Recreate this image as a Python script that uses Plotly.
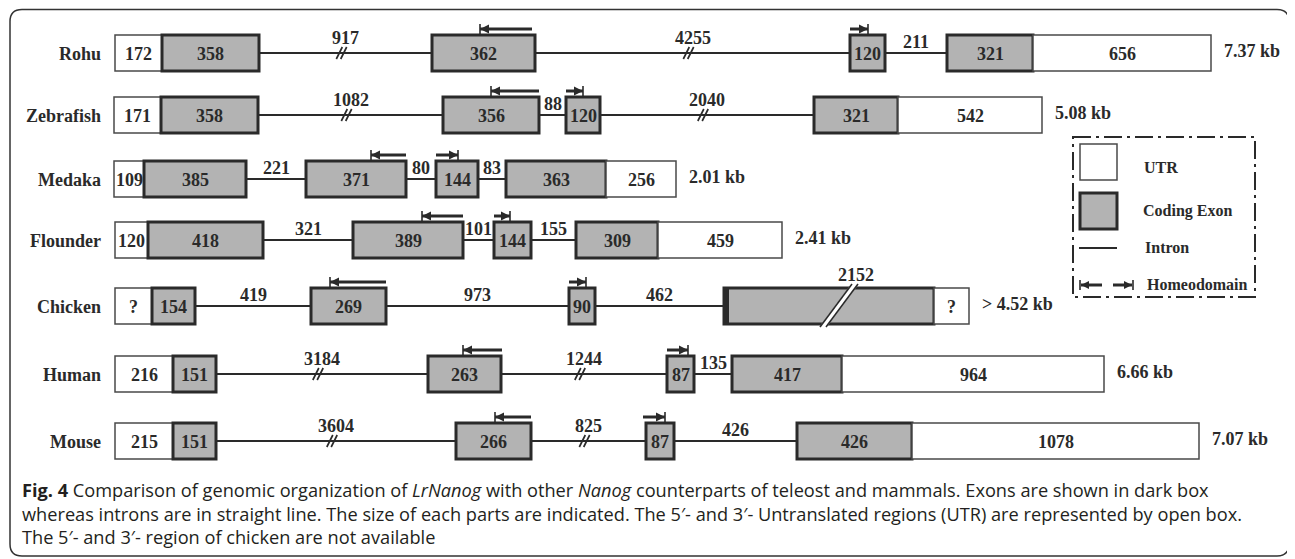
import plotly.graph_objects as go

# ---------------- data ----------------
species = ["Rohu", "Zebrafish", "Medaka", "Flounder", "Chicken", "Human", "Mouse"]
segment_kinds = ["UTR", "Exon", "Intron", "Exon", "Intron", "Exon", "Intron", "Exon", "UTR"]
rohu_sizes = ["172", "358", "917", "362", "4255", "120", "211", "321", "656"]
zebrafish_sizes = ["171", "358", "1082", "356", "88", "120", "2040", "321", "542"]
medaka_sizes = ["109", "385", "221", "371", "80", "144", "83", "363", "256"]
flounder_sizes = ["120", "418", "321", "389", "101", "144", "155", "309", "459"]
chicken_sizes = ["?", "154", "419", "269", "973", "90", "462", "2152", "?"]
human_sizes = ["216", "151", "3184", "263", "1244", "87", "135", "417", "964"]
mouse_sizes = ["215", "151", "3604", "266", "825", "87", "426", "426", "1078"]
total_length = ["7.37 kb", "5.08 kb", "2.01 kb", "2.41 kb", "> 4.52 kb", "6.66 kb", "7.07 kb"]
truncated_segments = [[2, 4], [2, 6], [], [], [7], [2, 4], [2, 4]]
legend_items = ["UTR", "Coding Exon", "Intron", "Homeodomain"]
caption_lines = [
    "<b>Fig. 4</b> Comparison of genomic organization of <i>LrNanog</i> with other <i>Nanog</i> counterparts of teleost and mammals. Exons are shown in dark box",
    "whereas introns are in straight line. The size of each parts are indicated. The 5\u2032- and 3\u2032- Untranslated regions (UTR) are represented by open box.",
    "The 5\u2032- and 3\u2032- region of chicken are not available",
]
all_sizes = [rohu_sizes, zebrafish_sizes, medaka_sizes, flounder_sizes,
             chicken_sizes, human_sizes, mouse_sizes]

# ---------------- layout (schematic, not to scale) ----------------
W, H = 1295, 559
PAGE_OFF = 8  # default body margin of the html page
row_y = [53, 115, 179, 240, 306, 374, 441]
half_h = 18
edges = [
    [115, 162, 259, 432, 535, 850, 885, 947, 1033, 1211],
    [114, 161, 258, 443, 539, 566, 600, 814, 898, 1042],
    [114, 144, 246, 306, 406, 436, 478, 506, 606, 676],
    [115, 148, 263, 353, 463, 494, 531, 576, 658, 782],
    [115, 152, 195, 311, 386, 569, 595, 724, 934, 969],
    [115, 173, 216, 428, 501, 667, 694, 732, 842, 1104],
    [115, 173, 216, 456, 531, 646, 674, 797, 912, 1199],
]
hd_left = [(480, 532), (491, 539), (371, 406), (422, 463), (330, 386), (463, 502), (495, 531)]
hd_right = [(850, 868), (566, 583), (436, 458), (494, 510), (569, 586), (667, 688), (643, 665)]

DARK = "#2a2a2a"
GREY = "#b3b3b3"
SERIF = "Liberation Serif"
FS = 18

shapes = []
annotations = []


def txt(x, y, s, size=FS, xanchor="center", family=SERIF, color=DARK, align="center"):
    annotations.append(dict(x=x, y=y, xref="x", yref="y", text=s, showarrow=False,
                            xanchor=xanchor, yanchor="middle", align=align,
                            font=dict(family=family, size=size, color=color)))


def line(x0, y0, x1, y1, w=2, c=DARK, dash=None):
    d = dict(type="line", xref="x", yref="y", x0=x0, y0=y0, x1=x1, y1=y1,
             line=dict(color=c, width=w))
    if dash:
        d["line"]["dash"] = dash
    shapes.append(d)


def rect(x0, y0, x1, y1, fill, w, c=DARK, dash=None):
    d = dict(type="rect", xref="x", yref="y", x0=x0, y0=y0, x1=x1, y1=y1,
             fillcolor=fill, line=dict(color=c, width=w))
    if dash:
        d["line"]["dash"] = dash
    shapes.append(d)


def path(p, fill=None, w=0, c=DARK):
    d = dict(type="path", xref="x", yref="y", path=p, line=dict(color=c, width=w))
    if fill:
        d["fillcolor"] = fill
    shapes.append(d)


def break_mark(xc, yc):
    for d in (-2.2, 2.2):
        line(xc + d - 3, yc + 6, xc + d + 3, yc - 6, w=1.7)


def arrow(x_from, x_to, y, bar_at, y_box_top):
    line(x_from, y, x_to, y, w=3)
    sgn = 1 if x_to > x_from else -1
    tip = x_to
    base = x_to - sgn * 9
    path(f"M {tip},{y} L {base},{y-4.5} L {base},{y+4.5} Z", fill=DARK, w=0)
    line(bar_at, y - 5, bar_at, y_box_top, w=1.6)


# frame with rounded corners
L, T, R, B, r = 10, 9.5, 1289, 556, 12
path(f"M {L+r},{T} L {R-r},{T} Q {R},{T} {R},{T+r} L {R},{B-r} Q {R},{B} {R-r},{B} "
     f"L {L+r},{B} Q {L},{B} {L},{B-r} L {L},{T+r} Q {L},{T} {L+r},{T} Z", w=1.5, c="#333333")

for i, name in enumerate(species):
    yc = row_y[i]
    e = edges[i]
    sizes = all_sizes[i]
    top, bot = yc - half_h, yc + half_h
    txt(103, yc + 1, f"<b>{name}</b>", xanchor="right")
    for k, kind in enumerate(segment_kinds):
        if kind == "Intron":
            x0, x1 = e[k], e[k + 1]
            line(x0, yc, x1, yc, w=2)
            mid = (x0 + x1) / 2
            if k in truncated_segments[i]:
                break_mark(mid - 4, yc)
                txt(mid, yc - 15, f"<b>{sizes[k]}</b>")
            else:
                txt(mid, yc - 11, f"<b>{sizes[k]}</b>")
    for k, kind in enumerate(segment_kinds):
        x0, x1 = e[k], e[k + 1]
        if kind == "UTR":
            rect(x0, top, x1, bot, "white", 1.5, c="#4a4a4a")
            txt((x0 + x1) / 2, yc + 1, f"<b>{sizes[k]}</b>")
        elif kind == "Exon":
            rect(x0, top, x1, bot, GREY, 3, c=DARK)
            if k in truncated_segments[i]:
                rect(x0, top, x0 + 5, bot, DARK, 0)
                bx0, by0, bx1, by1 = x0 + 99, bot + 3, x0 + 131, top - 4
                line(bx0, by0, bx1, by1, w=6, c="white")
                line(bx0 - 3, by0, bx1 - 3, by1, w=1.6)
                line(bx0 + 3, by0, bx1 + 3, by1, w=1.6)
                txt(bx1 + 1, top - 13, f"<b>{sizes[k]}</b>")
            else:
                txt((x0 + x1) / 2, yc + 1, f"<b>{sizes[k]}</b>")
    ya = yc - 24
    lx0, lx1 = hd_left[i]
    arrow(lx1, lx0, ya, lx0, top)
    rx0, rx1 = hd_right[i]
    arrow(rx0, rx1, ya, rx1, top)
    txt(e[-1] + 11, yc - 2, f"<b>{total_length[i]}</b>", xanchor="left")

# legend box
LFS = 16
rect(1073, 137, 1255, 297, "rgba(0,0,0,0)", 2, c=DARK, dash="18px,5px,3px,5px")
rect(1080, 144, 1117, 180, "white", 1.5, c="#4a4a4a")
txt(1142, 167, f"<b>{legend_items[0]}</b>", size=LFS, xanchor="left")
rect(1080, 193, 1117, 229, GREY, 3, c=DARK)
txt(1141, 211, f"<b>{legend_items[1]}</b>", size=LFS, xanchor="left")
line(1079, 248, 1117, 248, w=2)
txt(1143, 247, f"<b>{legend_items[2]}</b>", size=LFS, xanchor="left")
ly = 285
line(1080, ly - 5, 1080, ly + 5, w=1.6)
line(1081, ly, 1102, ly, w=3)
path(f"M 1081,{ly} L 1089,{ly-4} L 1089,{ly+4} Z", fill=DARK)
line(1133, ly - 5, 1133, ly + 5, w=1.6)
line(1113, ly, 1132, ly, w=3)
path(f"M 1132,{ly} L 1124,{ly-4} L 1124,{ly+4} Z", fill=DARK)
txt(1145, 284, f"<b>{legend_items[3]}</b>", size=LFS, xanchor="left")

# caption (one block, three lines)
txt(20, 513, "<br>".join(caption_lines), size=18.2, xanchor="left",
    family="Open Sans", color="#231f20", align="left")

fig = go.Figure()
fig.add_trace(go.Scatter(x=[PAGE_OFF, W], y=[PAGE_OFF, H], mode="markers",
                         marker=dict(opacity=0), hoverinfo="skip", showlegend=False))
fig.update_layout(
    width=W - PAGE_OFF, height=H - PAGE_OFF, margin=dict(l=0, r=0, t=0, b=0),
    paper_bgcolor="white", plot_bgcolor="white",
    xaxis=dict(range=[PAGE_OFF, W], visible=False, fixedrange=True),
    yaxis=dict(range=[H, PAGE_OFF], visible=False, fixedrange=True),
    shapes=shapes, annotations=annotations, showlegend=False,
)
fig.write_html("out.html")
